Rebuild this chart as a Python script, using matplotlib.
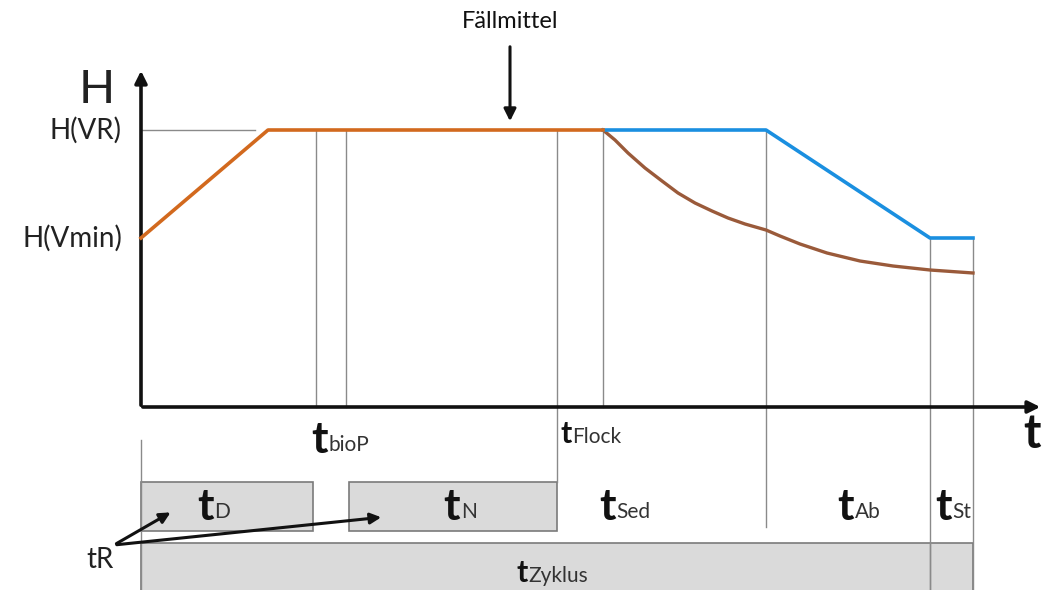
# Schematic of a cycle: fill level H over time t with phase boxes

import matplotlib.pyplot as plt

# levels (in diagram units, y grows downward like the sketch)
y_axis = 407
h_vr = 130
h_vmin = 238

# fill line (orange), decant line (blue), sludge curve (brown)
orange_x = [141, 268, 603]
orange_y = [h_vmin, h_vr, h_vr]
blue_x = [603, 766, 930, 973]
blue_y = [h_vr, h_vr, h_vmin, h_vmin]
curve_x = [603, 615, 628, 645, 662, 678, 695, 712, 728, 745, 766,
           780, 800, 827, 860, 893, 930, 973]
curve_y = [130, 140, 153, 168, 181, 193, 203, 211, 218, 224, 230,
           236, 244, 253, 261, 266, 270, 273]

# thin vertical markers: x, top, bottom
vlines = [
    (316, 130, 407),
    (346, 130, 407),
    (557, 130, 482),
    (603, 130, 407),
    (766, 130, 527),
    (930, 238, 590),
    (973, 238, 590),
    (141, 440, 590),
]

# phase boxes: x0, x1, y0, y1
boxes = [(141, 313, 482, 531), (349, 557, 482, 531), (141, 973, 543, 592)]

# labels: big t + subscript
t_labels = [
    ("bioP", 320, 453),
    ("D", 205, 520),
    ("N", 452, 520),
    ("Sed", 607, 520),
    ("Ab", 846, 520),
    ("St", 943, 520),
]
small_t_labels = [("Flock", 566, 443), ("Zyklus", 522, 582)]

plt.rcParams['font.family'] = ['Lato', 'DejaVu Sans']
fig = plt.figure(figsize=(10.43, 5.90), dpi=100)
ax = fig.add_axes([0, 0, 1, 1])
ax.set_xlim(0, 1043)
ax.set_ylim(590, 0)
ax.axis('off')

grey = '#8a8a8a'
for x, y0, y1 in vlines:
    ax.plot([x, x], [y0, y1], color=grey, lw=1)
ax.plot([141, 255], [h_vr, h_vr], color=grey, lw=1)

for x0, x1, y0, y1 in boxes:
    ax.add_patch(plt.Rectangle((x0, y0), x1 - x0, y1 - y0, facecolor='#dadada',
                               edgecolor='#7a7a7a', lw=1.2, zorder=1))
ax.plot([930, 930], [543, 590], color=grey, lw=1, zorder=2)

# axes with arrows
ax.annotate('', xy=(141, 68), xytext=(141, y_axis + 1),
            arrowprops=dict(arrowstyle='-|>', color='#111111', lw=2.6, mutation_scale=18))
ax.annotate('', xy=(1043, y_axis), xytext=(140, y_axis),
            arrowprops=dict(arrowstyle='-|>', color='#111111', lw=2.6, mutation_scale=18))

ax.plot(curve_x, curve_y, color='#9a5a3a', lw=2.4, zorder=3, solid_joinstyle='round')
ax.plot(blue_x, blue_y, color='#1a8fe0', lw=2.6, zorder=3)
ax.plot(orange_x, orange_y, color='#d2691e', lw=2.6, zorder=4)

# texts
ax.text(97, 90, 'H', fontsize=34, ha='center', va='center', color='#222222')
ax.text(122, h_vr, 'H(VR)', fontsize=20, ha='right', va='center', color='#222222')
ax.text(122, h_vmin, 'H(Vmin)', fontsize=20, ha='right', va='center', color='#222222')
ax.text(510, 22, 'Fällmittel', fontsize=17, ha='center', va='center', color='#111111')
ax.annotate('', xy=(510, 124), xytext=(510, 44),
            arrowprops=dict(arrowstyle='-|>', color='#111111', lw=2.2, mutation_scale=18))
ax.text(1041, 434, 't', fontsize=34, fontweight='bold', ha='right', va='center', color='#111111')

for sub, x, y in t_labels:
    ax.text(x, y, 't', fontsize=32, fontweight='bold', ha='center', va='baseline', color='#111111')
    ax.text(x + 9, y - 2, sub, fontsize=15, ha='left', va='baseline', color='#333333')
for sub, x, y in small_t_labels:
    ax.text(x, y, 't', fontsize=22, fontweight='bold', ha='center', va='baseline', color='#111111')
    ax.text(x + 6, y, sub, fontsize=15, ha='left', va='baseline', color='#333333')

ax.text(100, 560, 'tR', fontsize=20, ha='center', va='center', color='#222222')
ax.annotate('', xy=(173, 511), xytext=(114, 545),
            arrowprops=dict(arrowstyle='-|>', color='#111111', lw=2.2, mutation_scale=16))
ax.annotate('', xy=(384, 517), xytext=(114, 545),
            arrowprops=dict(arrowstyle='-|>', color='#111111', lw=2.2, mutation_scale=16))

plt.savefig('out.png', dpi=100)
plt.close()
